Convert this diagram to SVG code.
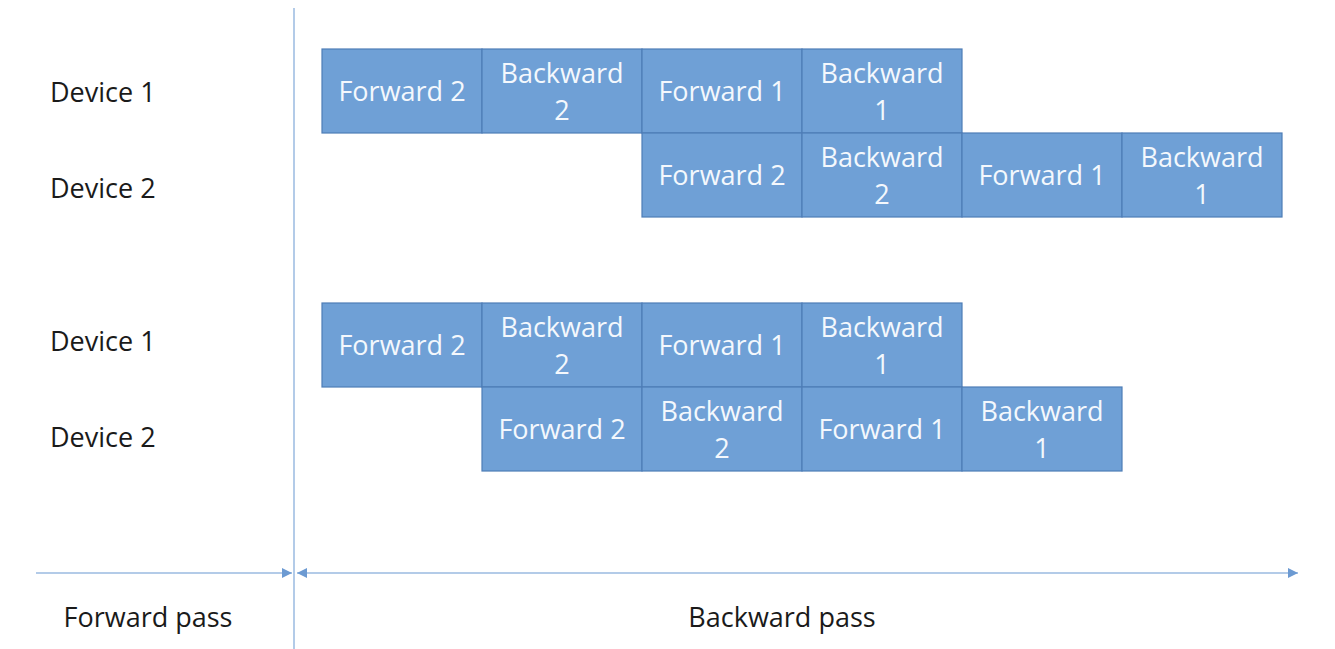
<svg xmlns="http://www.w3.org/2000/svg" width="1335" height="649" viewBox="0 0 1335 649">
<style>
.box{fill:#6FA0D6;stroke:#4E7DB6;stroke-width:1.2}
.bt{font-family:"Open Sans","Liberation Sans",sans-serif;font-size:27px;fill:#F4F8FD;text-anchor:middle}
.lbl{font-family:"Open Sans","Liberation Sans",sans-serif;font-size:27px;fill:#1a1a1a}
.axis{stroke:#B3CBE8;stroke-width:2;fill:none}
</style>
<defs>
<marker id="ah" viewBox="0 0 10 10" refX="10" refY="5" markerWidth="10" markerHeight="10" markerUnits="userSpaceOnUse" orient="auto-start-reverse">
<path d="M0,0 L10,5 L0,10 Z" fill="#6C9AD2"/>
</marker>
</defs>
<rect width="1335" height="649" fill="#ffffff"/>
<g id="axes">
<line class="axis" x1="294" y1="8" x2="294" y2="649"/>
<line class="axis" x1="36" y1="573" x2="292" y2="573" marker-end="url(#ah)"/>
<line class="axis" x1="297" y1="573" x2="1298" y2="573" marker-start="url(#ah)" marker-end="url(#ah)"/>
</g>
<g id="labels">
<text class="lbl" x="50" y="102">Device 1</text>
<text class="lbl" x="50" y="198">Device 2</text>
<text class="lbl" x="50" y="351">Device 1</text>
<text class="lbl" x="50" y="447">Device 2</text>
<text class="lbl" x="148" y="627" text-anchor="middle">Forward pass</text>
<text class="lbl" x="782" y="627" text-anchor="middle">Backward pass</text>
</g>
<g id="top-d1">
<g id="t1-f2"><rect class="box" x="322" y="49" width="160" height="84"/><text class="bt" x="402" y="101">Forward 2</text></g>
<g id="t1-b2"><rect class="box" x="482" y="49" width="160" height="84"/><text class="bt" x="562" y="83">Backward</text><text class="bt" x="562" y="120">2</text></g>
<g id="t1-f1"><rect class="box" x="642" y="49" width="160" height="84"/><text class="bt" x="722" y="101">Forward 1</text></g>
<g id="t1-b1"><rect class="box" x="802" y="49" width="160" height="84"/><text class="bt" x="882" y="83">Backward</text><text class="bt" x="882" y="120">1</text></g>
</g>
<g id="top-d2">
<g id="t2-f2"><rect class="box" x="642" y="133" width="160" height="84"/><text class="bt" x="722" y="185">Forward 2</text></g>
<g id="t2-b2"><rect class="box" x="802" y="133" width="160" height="84"/><text class="bt" x="882" y="167">Backward</text><text class="bt" x="882" y="204">2</text></g>
<g id="t2-f1"><rect class="box" x="962" y="133" width="160" height="84"/><text class="bt" x="1042" y="185">Forward 1</text></g>
<g id="t2-b1"><rect class="box" x="1122" y="133" width="160" height="84"/><text class="bt" x="1202" y="167">Backward</text><text class="bt" x="1202" y="204">1</text></g>
</g>
<g id="bot-d1">
<g id="b1-f2"><rect class="box" x="322" y="303" width="160" height="84"/><text class="bt" x="402" y="355">Forward 2</text></g>
<g id="b1-b2"><rect class="box" x="482" y="303" width="160" height="84"/><text class="bt" x="562" y="337">Backward</text><text class="bt" x="562" y="374">2</text></g>
<g id="b1-f1"><rect class="box" x="642" y="303" width="160" height="84"/><text class="bt" x="722" y="355">Forward 1</text></g>
<g id="b1-b1"><rect class="box" x="802" y="303" width="160" height="84"/><text class="bt" x="882" y="337">Backward</text><text class="bt" x="882" y="374">1</text></g>
</g>
<g id="bot-d2">
<g id="b2-f2"><rect class="box" x="482" y="387" width="160" height="84"/><text class="bt" x="562" y="439">Forward 2</text></g>
<g id="b2-b2"><rect class="box" x="642" y="387" width="160" height="84"/><text class="bt" x="722" y="421">Backward</text><text class="bt" x="722" y="458">2</text></g>
<g id="b2-f1"><rect class="box" x="802" y="387" width="160" height="84"/><text class="bt" x="882" y="439">Forward 1</text></g>
<g id="b2-b1"><rect class="box" x="962" y="387" width="160" height="84"/><text class="bt" x="1042" y="421">Backward</text><text class="bt" x="1042" y="458">1</text></g>
</g>
</svg>
